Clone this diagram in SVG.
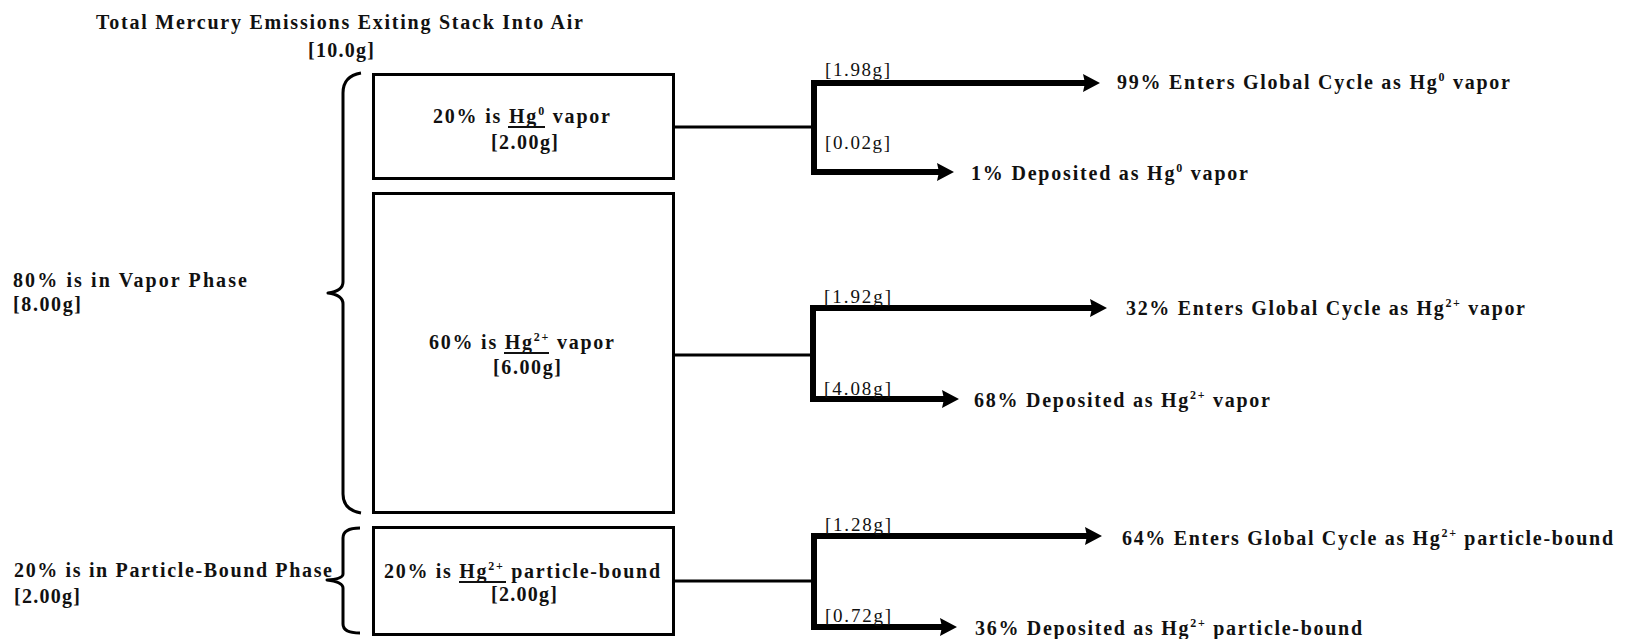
<svg xmlns="http://www.w3.org/2000/svg" width="1631" height="639" viewBox="0 0 1631 639">
<style>
  text { font-family: "Liberation Serif", "Times New Roman", serif; font-size: 20px; fill: #111; }
  .b { font-weight: bold; }
  .lbl { font-weight: normal; font-size: 19px; }
  .sup { font-size: 12px; }
  .box { fill: #fff; stroke: #000; stroke-width: 3; }
  .brace { fill: none; stroke: #000; stroke-width: 3; stroke-linejoin: round; }
  .feed { fill: none; stroke: #000; stroke-width: 3; }
  .flow { fill: none; stroke: #000; stroke-width: 6; stroke-linejoin: miter; marker-end: url(#head); }
  .ul { stroke: #111; stroke-width: 1.8; }
</style>
<defs>
  <marker id="head" markerUnits="userSpaceOnUse" markerWidth="20" markerHeight="20" refX="4" refY="9" orient="auto">
    <path d="M0,0 L17,9 L0,18 L2,9 z" fill="#000"/>
  </marker>
</defs>

<g id="title">
  <text class="b" x="96" y="29" textLength="487">Total Mercury Emissions Exiting Stack Into Air</text>
  <text class="b" x="308" y="57" textLength="66">[10.0g]</text>
</g>

<g id="vapor-phase">
  <path class="brace" d="M361 73 Q343 76 343 93 L343 282 Q343 291 328 293 Q343 295 343 304 L343 494 Q343 510 361 513"/>
  <text class="b" x="13" y="287" textLength="234">80% is in Vapor Phase</text>
  <text class="b" x="13" y="311" textLength="68">[8.00g]</text>
</g>

<g id="particle-phase">
  <path class="brace" d="M360 528 Q343 528 343 538 L343 574 Q343 579 327 580 Q343 582 343 588 L343 624 Q343 633 360 633"/>
  <text class="b" x="14" y="577" textLength="318">20% is in Particle-Bound Phase</text>
  <text class="b" x="14" y="603" textLength="66">[2.00g]</text>
</g>

<g id="hg0-vapor">
  <rect class="box" x="373.5" y="74.5" width="300" height="104"/>
  <text class="b" x="433" y="123" textLength="177">20% is Hg<tspan class="sup" dy="-8">0</tspan><tspan dy="8"> vapor</tspan></text>
  <line class="ul" x1="508" y1="127" x2="545" y2="127"/>
  <text class="b" x="491" y="149" textLength="67">[2.00g]</text>
</g>

<g id="hg2-vapor">
  <rect class="box" x="373.5" y="193.5" width="300" height="319"/>
  <text class="b" x="429" y="349" textLength="185">60% is Hg<tspan class="sup" dy="-8">2+</tspan><tspan dy="8"> vapor</tspan></text>
  <line class="ul" x1="504" y1="353" x2="549" y2="353"/>
  <text class="b" x="493" y="374" textLength="68">[6.00g]</text>
</g>

<g id="hg2-particle">
  <rect class="box" x="373.5" y="527.5" width="300" height="107"/>
  <text class="b" x="384" y="578" textLength="276">20% is Hg<tspan class="sup" dy="-8">2+</tspan><tspan dy="8"> particle-bound</tspan></text>
  <line class="ul" x1="459" y1="582" x2="506" y2="582"/>
  <text class="b" x="491" y="601" textLength="66">[2.00g]</text>
</g>

<g id="connectors">
  <path class="feed" d="M674 127 H814"/>
  <path class="flow" d="M814 127 V83 H1087"/>
  <path class="flow" d="M814 127 V172 H941"/>

  <path class="feed" d="M674 355 H813"/>
  <path class="flow" d="M813 355 V308 H1094"/>
  <path class="flow" d="M813 355 V399 H946"/>

  <path class="feed" d="M674 581 H814"/>
  <path class="flow" d="M814 581 V536 H1089"/>
  <path class="flow" d="M814 581 V627 H944"/>

  <text class="lbl" x="825" y="76" textLength="65">[1.98g]</text>
  <text class="lbl" x="825" y="149" textLength="65">[0.02g]</text>
  <text class="lbl" x="824" y="303" textLength="67">[1.92g]</text>
  <text class="lbl" x="824" y="395" textLength="67">[4.08g]</text>
  <text class="lbl" x="825" y="531" textLength="66">[1.28g]</text>
  <text class="lbl" x="825" y="622" textLength="66">[0.72g]</text>
</g>

<g id="out-hg0-global">
  <text class="b" x="1117" y="89" textLength="393">99% Enters Global Cycle as Hg<tspan class="sup" dy="-8">0</tspan><tspan dy="8"> vapor</tspan></text>
</g>
<g id="out-hg0-dep">
  <text class="b" x="971" y="180" textLength="277">1% Deposited as Hg<tspan class="sup" dy="-8">0</tspan><tspan dy="8"> vapor</tspan></text>
</g>
<g id="out-hg2v-global">
  <text class="b" x="1126" y="315" textLength="399">32% Enters Global Cycle as Hg<tspan class="sup" dy="-8">2+</tspan><tspan dy="8"> vapor</tspan></text>
</g>
<g id="out-hg2v-dep">
  <text class="b" x="974" y="407" textLength="296">68% Deposited as Hg<tspan class="sup" dy="-8">2+</tspan><tspan dy="8"> vapor</tspan></text>
</g>
<g id="out-hg2p-global">
  <text class="b" x="1122" y="545" textLength="491">64% Enters Global Cycle as Hg<tspan class="sup" dy="-8">2+</tspan><tspan dy="8"> particle-bound</tspan></text>
</g>
<g id="out-hg2p-dep">
  <text class="b" x="975" y="635" textLength="387">36% Deposited as Hg<tspan class="sup" dy="-8">2+</tspan><tspan dy="8"> particle-bound</tspan></text>
</g>
</svg>
